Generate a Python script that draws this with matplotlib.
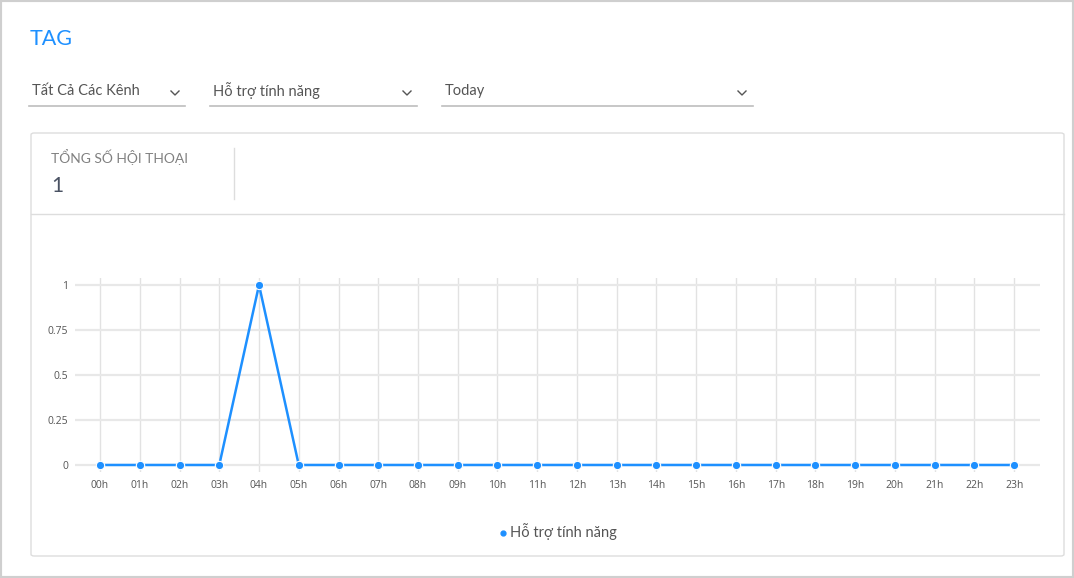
import matplotlib
matplotlib.use("Agg")
import matplotlib.pyplot as plt
from matplotlib.patches import Rectangle, FancyBboxPatch
from matplotlib.lines import Line2D

hours = [f"{h:02d}h" for h in range(24)]
values = [0, 0, 0, 0, 1, 0, 0, 0, 0, 0, 0, 0, 0, 0, 0, 0, 0, 0, 0, 0, 0, 0, 0, 0]
y_ticks = [0, 0.25, 0.5, 0.75, 1]
y_tick_labels = ["0", "0.25", "0.5", "0.75", "1"]
series_name = "Hỗ trợ tính năng"
title = "TAG"
filters = ["Tất Cả Các Kênh", "Hỗ trợ tính năng", "Today"]
kpi_label = "TỔNG SỐ HỘI THOẠI"
kpi_value = "1"

W, H = 1074, 578
BLUE = "#1E90FF"
FONT = ["Lato", "Noto Sans", "DejaVu Sans"]
plt.rcParams["font.family"] = FONT

fig = plt.figure(figsize=(W / 100, H / 100), dpi=100)
fig.patch.set_facecolor("white")

def fx(x):
    return x / W

def fy(y):
    return 1 - y / H

# outer frame
fig.add_artist(Rectangle((0, 0), 1, 1, transform=fig.transFigure, fill=False,
                         edgecolor="#cfcfcf", linewidth=3))

# title
fig.text(fx(30), fy(39), title, color=BLUE, fontsize=15.5, va="center", ha="left")

# filters
dd = [(29, 185, 175), (210, 417, 407), (442, 753, 742)]
for (x0, x1, cx), label in zip(dd, filters):
    fig.text(fx(x0 + 3), fy(91), label, color="#555555", fontsize=10.5, va="center", ha="left")
    fig.add_artist(Line2D([fx(x0), fx(x1)], [fy(106), fy(106)], transform=fig.transFigure,
                          color="#bdbdbd", linewidth=1.2))
    fig.add_artist(Line2D([fx(cx - 4), fx(cx), fx(cx + 4)], [fy(91), fy(95), fy(91)],
                          transform=fig.transFigure, color="#555555", linewidth=1.0))

# card
card = FancyBboxPatch((fx(31), fy(556)), fx(1064) - fx(31), fy(133) - fy(556),
                      boxstyle="round,pad=0,rounding_size=0.003", transform=fig.transFigure,
                      facecolor="white", edgecolor="#dddddd", linewidth=1.0, zorder=-1)
fig.add_artist(card)
fig.add_artist(Line2D([fx(31), fx(1064)], [fy(214), fy(214)], transform=fig.transFigure,
                      color="#dddddd", linewidth=1.0))
fig.add_artist(Line2D([fx(234), fx(234)], [fy(148), fy(199)], transform=fig.transFigure,
                      color="#dddddd", linewidth=1.0))
fig.text(fx(51), fy(157), kpi_label, color="#808080", fontsize=10, va="center", ha="left")
fig.text(fx(51), fy(186), kpi_value, color="#4a5263", fontsize=15, va="center", ha="left")

# chart axes
ax = fig.add_axes([fx(75), fy(472), fx(1040) - fx(75), fy(278) - fy(472)])
ax.set_zorder(2)
ax.patch.set_alpha(0)
x = list(range(len(hours)))
ax.plot(x, values, color=BLUE, linewidth=1.8, marker="o", markersize=6,
        markerfacecolor=BLUE, markeredgecolor="white", markeredgewidth=0.8, zorder=3,
        clip_on=False)
ax.set_xlim(-0.63, 23.65)
ax.set_ylim(-0.039, 1.039)
ax.set_xticks(x)
ax.set_xticklabels(hours)
ax.set_yticks(y_ticks)
ax.set_yticklabels(y_tick_labels)
for s in ax.spines.values():
    s.set_visible(False)
ax.tick_params(axis="both", length=0, labelsize=7.5, labelcolor="#555555")
ax.tick_params(axis="x", pad=6)
ax.tick_params(axis="y", pad=5)
ax.grid(axis="y", color="#e8e8e8", linewidth=1.6)
ax.grid(axis="x", color="#e2e2e2", linewidth=1.0)
ax.set_axisbelow(True)
for lab in ax.get_xticklabels() + ax.get_yticklabels():
    lab.set_family(["Open Sans", "DejaVu Sans"])

# legend
fig.add_artist(Line2D([fx(503)], [fy(533)], transform=fig.transFigure, marker="o",
                      markersize=3.5, color=BLUE, linestyle="none"))
fig.text(fx(510), fy(532), series_name, color="#555555", fontsize=10.5, va="center", ha="left")

fig.savefig("out.png", dpi=100, facecolor="white")
